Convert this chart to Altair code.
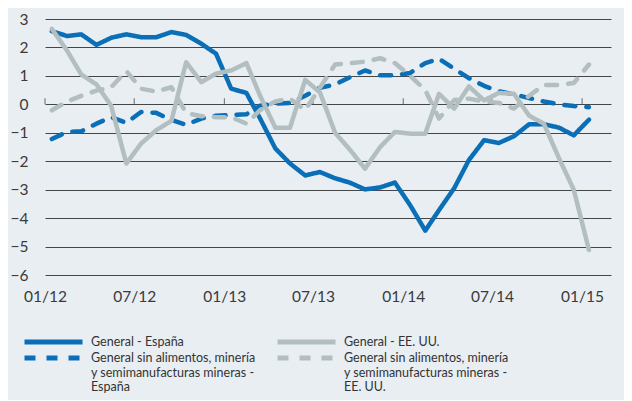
import altair as alt
import pandas as pd

# Monthly observations, January 2012 .. January 2015 (37 months)
start_month = "2012-01-01"
n_months = 37

general_es = [2.57, 2.40, 2.46, 2.09, 2.34, 2.46, 2.36, 2.36, 2.54, 2.44, 2.13, 1.78,
              0.55, 0.40, -0.50, -1.55, -2.08, -2.50, -2.38, -2.60, -2.76, -2.99, -2.92, -2.75,
              -3.54, -4.44, -3.72, -2.95, -1.96, -1.26, -1.36, -1.12, -0.70, -0.70, -0.82, -1.09,
              -0.54]
general_us = [2.65, 1.89, 1.05, 0.70, -0.05, -2.08, -1.38, -0.91, -0.58, 1.48, 0.78, 1.08,
              1.19, 1.45, 0.30, -0.82, -0.82, 0.86, 0.42, -1.00, -1.61, -2.26, -1.50, -0.97,
              -1.03, -1.03, 0.37, -0.15, 0.63, 0.14, 0.40, 0.37, -0.40, -0.68, -1.90, -3.00,
              -5.12]
core_es = [-1.22, -0.97, -0.95, -0.68, -0.45, -0.65, -0.27, -0.30, -0.55, -0.72, -0.50, -0.40,
           -0.38, -0.35, -0.05, 0.02, 0.05, 0.30, 0.58, 0.70, 0.96, 1.19, 1.02, 1.02,
           1.10, 1.45, 1.60, 1.25, 0.92, 0.65, 0.46, 0.35, 0.22, 0.10, 0.00, -0.06,
           -0.10]
core_us = [-0.21, 0.10, 0.30, 0.48, 0.60, 1.17, 0.55, 0.45, 0.60, -0.30, -0.42, -0.45,
           -0.45, -0.68, -0.20, 0.10, 0.20, -0.20, 0.58, 1.40, 1.45, 1.50, 1.62, 1.45,
           1.00, 0.50, -0.50, 0.15, 0.20, 0.10, 0.05, -0.15, 0.30, 0.68, 0.68, 0.75,
           1.40]

# legend order (filled column by column): España column, then EE. UU. column
series_names = [
    "General - España",
    "General sin alimentos, minería|y semimanufacturas mineras -|España",
    "General - EE. UU.",
    "General sin alimentos, minería|y semimanufacturas mineras -|EE. UU.",
]
series_values = [general_es, core_es, general_us, core_us]
series_colors = ["#0a6fb6", "#0a6fb6", "#b3bec0", "#b3bec0"]
series_dashes = [[1, 0], [11, 11], [1, 0], [11, 11]]

tick_dates = ["2012-01-01", "2012-07-01", "2013-01-01", "2013-07-01",
              "2014-01-01", "2014-07-01", "2015-01-01"]
x_domain = ["2012-01-01", "2015-03-01"]
y_ticks = [-6, -5, -4, -3, -2, -1, 0, 1, 2, 3]

dates = pd.date_range(start_month, periods=n_months, freq="MS") + pd.Timedelta(days=14)
rows = []
for name, vals in zip(series_names, series_values):
    for d, v in zip(dates, vals):
        rows.append({"date": d, "value": v, "series": name})
df = pd.DataFrame(rows)
ticks_df = pd.DataFrame({"date": pd.to_datetime(tick_dates), "value": 0})

FONT = "Lato"

x_axis = alt.Axis(
    values=tick_dates,
    labelExpr="timeFormat(datum.value, '%m/%y')",
    title=None, grid=False, domain=False, ticks=False,
    labelPadding=14, labelFontSize=15.5, labelColor="#3a3a3a",
    labelFont=FONT, labelFlush=False,
)
y_axis = alt.Axis(
    values=y_ticks, title=None, domain=False, ticks=False,
    grid=True, gridColor="#333333", gridWidth=1, gridOpacity=0.9,
    labelPadding=17, labelFontSize=15.5, labelColor="#3a3a3a",
    labelFont=FONT, labelOverlap=False,
)
x_enc = alt.X("date:T", scale=alt.Scale(domain=x_domain), axis=x_axis)
y_enc = alt.Y("value:Q", scale=alt.Scale(domain=[-6, 3], nice=False), axis=y_axis)

label_expr = "indexof(datum.label, '|') < 0 ? datum.label : split(datum.label, '|')"

lines = alt.Chart(df).mark_line(
    strokeWidth=4.5, strokeCap="round", strokeJoin="round"
).encode(
    x=x_enc,
    y=y_enc,
    color=alt.Color(
        "series:N",
        scale=alt.Scale(domain=series_names, range=series_colors),
        legend=alt.Legend(
            title=None, orient="none", legendX=-23, legendY=315,
            columns=2, columnPadding=19, rowPadding=-11,
            symbolType="stroke", symbolSize=3364, symbolStrokeWidth=5,
            clipHeight=16, labelOffset=6,
            labelExpr=label_expr,
            labelFont=FONT, labelFontSize=12.5, labelColor="#333333",
            labelLimit=400, labelBaseline="middle", padding=0,
        ),
    ),
    strokeDash=alt.StrokeDash(
        "series:N",
        scale=alt.Scale(domain=series_names, range=series_dashes),
        legend=None,
    ),
)

tick_marks = alt.Chart(ticks_df).mark_tick(
    color="#333333", thickness=1, size=6, yOffset=-3, orient="vertical"
).encode(x=x_enc, y=y_enc)

chart = alt.layer(tick_marks, lines).properties(
    width=566, height=256,
    background="#e9eef3",
    padding={"left": 37, "top": 11, "right": 13, "bottom": 125},
    autosize=alt.AutoSizeParams(type="none"),
).configure_view(stroke=None).configure_axis(labelFont=FONT)

chart.save("out.html", embed_options={"renderer": "svg", "actions": False})
